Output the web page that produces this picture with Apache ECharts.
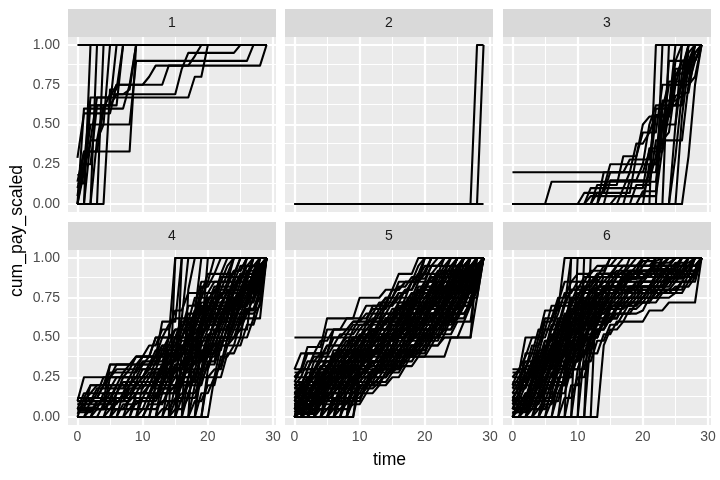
<!DOCTYPE html>
<html>
<head>
<meta charset="utf-8">
<script src="https://cdn.jsdelivr.net/npm/echarts@6/dist/echarts.min.js"></script>
<style>
  html, body { margin: 0; padding: 0; background: #fff; }
  #chart { width: 720px; height: 480px; }
</style>
</head>
<body>
<div id="chart"></div>
<script>
// facet labels and axis ticks
const panelNames = ["1", "2", "3", "4", "5", "6"];
const xTicks = [0, 10, 20, 30];
const xMinor = [5, 15, 25];
const yTicks = [0, 0.25, 0.5, 0.75, 1];
const yMinor = [0.125, 0.375, 0.625, 0.875];
const lastTime = 29;

// each claim: [start value, t1, v1, t2, v2, ...] -> value reaches v_k at time t_k (rising from t_k - 1)
const claims1 = [
  [1],
  [0, 2, 1],
  [0, 3, 1],
  [0, 4, 1],
  [0, 5, 0.72, 7, 1],
  [0.29, 1, 0.57, 6, 0.75, 14, 0.87, 29, 1],
  [0.14, 1, 0.33, 9, 1],
  [0.18, 1, 0.2, 2, 0.5, 9, 0.9, 27, 1],
  [0, 1, 0.25, 2, 0.67, 18, 0.8, 20, 1],
  [0.13, 2, 0.62, 6, 0.69, 16, 0.85, 17, 0.95, 25, 1],
  [0, 2, 0.4, 3, 0.67, 6, 0.75, 11, 0.8, 12, 0.87, 18, 0.93, 19, 1],
  [0.05, 1, 0.33, 4, 0.6, 5, 0.69, 8, 0.72, 9, 1],
  [0, 3, 0.4, 4, 0.62, 7, 1],
  [0, 1, 0.2, 2, 0.4, 4, 0.5, 5, 1],
  [0.1, 1, 0.25, 3, 0.62, 6, 1],
  [0, 1, 0.6, 8, 0.75, 9, 1]
];
const claims2 = [
  [0, 28, 1],
  [0, 29, 1],
  [0]
];
const claims3 = [
  [0, 22, 1],
  [0, 23, 1],
  [0, 24, 1],
  [0.2, 23, 0.6, 25, 1],
  [0, 6, 0.14, 23, 0.5, 26, 1],
  [0, 12, 0.1, 15, 0.25, 21, 0.5, 22, 0.62, 27, 1],
  [0, 13, 0.07, 19, 0.3, 20, 0.45, 23, 0.75, 26, 0.9, 29, 1],
  [0, 14, 0.2, 19, 0.38, 21, 0.45, 22, 0.56, 25, 0.82, 28, 1],
  [0, 11, 0.07, 15, 0.2, 18, 0.28, 22, 0.6, 24, 0.77, 28, 1],
  [0, 17, 0.1, 21, 0.35, 24, 0.9, 29, 1],
  [0, 15, 0.15, 20, 0.25, 23, 0.4, 27, 0.75, 28, 0.9, 29, 1],
  [0, 27, 0.3, 28, 0.75, 29, 1],
  [0, 25, 0.5, 26, 0.82, 27, 1],
  [0, 13, 0.12, 17, 0.3, 20, 0.5, 21, 0.55, 25, 0.68, 26, 0.7, 27, 0.95, 28, 1],
  [0, 20, 0.08, 23, 0.5, 24, 0.75, 27, 0.85, 28, 0.95, 29, 1],
  [0, 26, 0.55, 27, 0.87, 28, 1],
  [0, 14, 0.1, 18, 0.2, 21, 0.33, 24, 0.57, 25, 0.9, 26, 1],
  [0, 21, 0.25, 23, 0.5, 24, 0.62, 26, 0.75, 27, 1],
  [0, 12, 0.05, 21, 0.2, 22, 0.55, 25, 0.8, 26, 0.9, 28, 1],
  [0, 18, 0.15, 22, 0.3, 23, 0.65, 26, 0.68, 27, 0.9, 29, 1],
  [0, 16, 0.05, 23, 0.35, 24, 0.62, 25, 0.85, 27, 1],
  [0, 25, 0.3, 26, 0.7, 28, 0.95, 29, 1],
  [0, 19, 0.12, 22, 0.4, 24, 0.45, 25, 0.75, 28, 0.8, 29, 1]
];
const claims4 = [
  [0.1, 1, 0.25, 6, 0.33, 10, 0.38, 12, 0.5, 15, 1],
  [0.05, 2, 0.2, 5, 0.33, 9, 0.38, 13, 0.6, 16, 1],
  [0, 15, 1],
  [0, 16, 1],
  [0, 17, 0.8, 18, 1],
  [0, 18, 0.65, 19, 1],
  [0, 19, 0.5, 20, 1],
  [0, 20, 0.3, 21, 0.5, 24, 0.75, 28, 1],
  [0, 21, 0.25, 22, 0.33, 23, 0.5, 25, 0.62, 29, 1],
  [0, 20, 0.25, 22, 0.45, 24, 0.5, 26, 0.75, 28, 0.8, 29, 1],
  [0.08, 3, 0.15, 7, 0.22, 10, 0.3, 13, 0.4, 16, 0.55, 19, 0.7, 22, 0.85, 25, 0.95, 27, 1],
  [0, 2, 0.1, 5, 0.18, 8, 0.25, 11, 0.33, 14, 0.42, 17, 0.5, 20, 0.62, 23, 0.75, 26, 0.88, 29, 1],
  [0, 1, 0.12, 4, 0.2, 9, 0.3, 12, 0.38, 15, 0.45, 18, 0.6, 21, 0.7, 24, 0.8, 27, 0.9, 29, 1],
  [0.05, 5, 0.1, 8, 0.18, 11, 0.25, 14, 0.35, 16, 0.42, 19, 0.6, 21, 0.68, 23, 0.8, 26, 0.92, 28, 1],
  [0, 3, 0.05, 6, 0.12, 9, 0.2, 12, 0.28, 15, 0.4, 18, 0.55, 20, 0.68, 22, 0.78, 25, 0.88, 28, 1],
  [0.12, 4, 0.2, 7, 0.28, 10, 0.35, 13, 0.45, 16, 0.6, 18, 0.75, 20, 0.85, 24, 1],
  [0, 4, 0.08, 7, 0.15, 11, 0.2, 14, 0.3, 17, 0.38, 19, 0.5, 22, 0.62, 24, 0.75, 27, 0.92, 29, 1],
  [0, 6, 0.1, 9, 0.15, 12, 0.22, 15, 0.33, 18, 0.45, 20, 0.55, 23, 0.65, 25, 0.8, 28, 0.9, 29, 1],
  [0.02, 1, 0.08, 5, 0.15, 8, 0.25, 11, 0.3, 14, 0.5, 17, 0.62, 19, 0.75, 22, 0.9, 24, 1],
  [0, 7, 0.08, 10, 0.12, 13, 0.2, 16, 0.28, 18, 0.35, 20, 0.5, 22, 0.6, 25, 0.7, 27, 0.85, 29, 1],
  [0, 8, 0.05, 11, 0.15, 14, 0.25, 17, 0.3, 19, 0.42, 21, 0.55, 24, 0.7, 26, 0.82, 28, 0.95, 29, 1],
  [0.1, 2, 0.15, 4, 0.25, 6, 0.3, 9, 0.38, 11, 0.45, 13, 0.55, 15, 0.67, 17, 0.78, 20, 0.9, 22, 1],
  [0, 9, 0.1, 12, 0.18, 15, 0.3, 17, 0.4, 19, 0.55, 21, 0.65, 23, 0.72, 26, 0.85, 29, 1],
  [0, 10, 0.12, 13, 0.25, 16, 0.35, 18, 0.5, 20, 0.58, 23, 0.7, 25, 0.78, 28, 0.92, 29, 1],
  [0.03, 3, 0.1, 6, 0.2, 9, 0.25, 12, 0.35, 14, 0.45, 16, 0.5, 18, 0.67, 21, 0.8, 23, 0.9, 25, 1],
  [0, 5, 0.05, 8, 0.12, 12, 0.25, 15, 0.33, 17, 0.45, 19, 0.58, 22, 0.72, 24, 0.85, 26, 1],
  [0, 11, 0.08, 14, 0.18, 16, 0.25, 18, 0.4, 20, 0.45, 22, 0.55, 24, 0.65, 26, 0.75, 28, 0.85, 29, 1],
  [0, 12, 0.15, 15, 0.2, 17, 0.33, 19, 0.45, 21, 0.62, 24, 0.75, 26, 0.9, 28, 1],
  [0.06, 4, 0.12, 8, 0.2, 10, 0.25, 13, 0.33, 15, 0.5, 17, 0.58, 19, 0.65, 21, 0.75, 24, 0.85, 27, 1],
  [0, 13, 0.05, 15, 0.12, 17, 0.2, 19, 0.3, 21, 0.42, 23, 0.58, 25, 0.7, 27, 0.8, 29, 1],
  [0, 14, 0.1, 16, 0.15, 18, 0.25, 20, 0.4, 22, 0.5, 24, 0.6, 26, 0.68, 28, 0.75, 29, 1],
  [0, 2, 0.05, 5, 0.25, 10, 0.33, 12, 0.38, 14, 0.5, 16, 0.62, 19, 0.82, 21, 0.9, 23, 1],
  [0.1, 5, 0.33, 9, 0.38, 12, 0.5, 14, 0.58, 15, 0.62, 17, 1],
  [0, 15, 0.05, 17, 0.12, 19, 0.22, 20, 0.33, 22, 0.45, 24, 0.55, 26, 0.65, 28, 0.7, 29, 1],
  [0, 16, 0.25, 18, 0.3, 20, 0.5, 22, 0.6, 25, 0.75, 27, 0.8, 29, 1],
  [0, 18, 0.2, 20, 0.35, 22, 0.5, 25, 0.55, 27, 0.88, 28, 0.95, 29, 1],
  [0.05, 1, 0.15, 3, 0.2, 5, 0.25, 8, 0.3, 10, 0.38, 13, 0.45, 15, 0.55, 17, 0.7, 19, 0.85, 21, 1],
  [0, 19, 0.3, 20, 0.4, 22, 0.6, 23, 0.67, 25, 0.75, 28, 0.9, 29, 1],
  [0, 6, 0.05, 9, 0.12, 13, 0.15, 16, 0.22, 19, 0.38, 21, 0.5, 23, 0.62, 25, 0.72, 27, 0.9, 29, 1],
  [0, 17, 0.15, 19, 0.25, 21, 0.3, 23, 0.45, 25, 0.6, 26, 0.67, 28, 0.8, 29, 1],
  [0, 3, 0.1, 8, 0.15, 12, 0.2, 15, 0.3, 17, 0.45, 19, 0.55, 21, 0.7, 23, 0.8, 25, 0.9, 27, 1],
  [0, 5, 0.12, 9, 0.2, 13, 0.3, 16, 0.4, 18, 0.5, 20, 0.6, 21, 0.65, 24, 0.8, 26, 0.85, 29, 1],
  [0.08, 2, 0.12, 6, 0.2, 10, 0.25, 12, 0.3, 15, 0.38, 17, 0.52, 19, 0.6, 22, 0.72, 25, 0.85, 28, 1],
  [0, 7, 0.15, 10, 0.22, 13, 0.33, 15, 0.42, 17, 0.55, 19, 0.68, 21, 0.75, 23, 0.85, 26, 0.95, 28, 1],
  [0, 10, 0.2, 13, 0.28, 16, 0.45, 18, 0.55, 20, 0.65, 22, 0.78, 24, 0.82, 27, 0.9, 29, 1],
  [0, 12, 0.2, 14, 0.35, 16, 0.5, 18, 0.6, 20, 0.72, 22, 0.75, 24, 0.88, 26, 0.95, 29, 1],
  [0, 13, 0.25, 15, 0.38, 17, 0.48, 19, 0.62, 21, 0.72, 23, 0.78, 25, 0.9, 28, 1],
  [0, 15, 0.2, 17, 0.4, 19, 0.5, 21, 0.58, 23, 0.72, 25, 0.8, 27, 0.9, 29, 1],
  [0, 16, 0.12, 18, 0.3, 20, 0.45, 22, 0.55, 24, 0.68, 26, 0.78, 28, 0.88, 29, 1],
  [0.05, 4, 0.15, 7, 0.25, 11, 0.33, 13, 0.42, 15, 0.5, 17, 0.6, 19, 0.72, 21, 0.82, 24, 0.92, 26, 1],
  [0, 8, 0.12, 11, 0.2, 14, 0.28, 16, 0.33, 18, 0.5, 20, 0.62, 22, 0.7, 24, 0.78, 26, 0.88, 28, 0.95, 29, 1],
  [0, 9, 0.15, 12, 0.25, 14, 0.38, 16, 0.45, 18, 0.58, 20, 0.7, 22, 0.8, 25, 0.88, 27, 1],
  [0.1, 3, 0.18, 6, 0.25, 9, 0.33, 12, 0.42, 14, 0.5, 16, 0.58, 18, 0.65, 20, 0.78, 22, 0.88, 25, 1],
  [0, 11, 0.1, 13, 0.18, 15, 0.25, 17, 0.35, 19, 0.48, 21, 0.6, 23, 0.68, 25, 0.78, 27, 0.88, 29, 1],
  [0, 14, 0.2, 16, 0.3, 18, 0.38, 20, 0.52, 22, 0.65, 24, 0.72, 26, 0.85, 28, 0.92, 29, 1],
  [0, 17, 0.25, 19, 0.38, 21, 0.45, 23, 0.55, 25, 0.65, 27, 0.75, 28, 0.85, 29, 1],
  [0, 18, 0.1, 20, 0.2, 22, 0.38, 24, 0.45, 26, 0.58, 28, 0.72, 29, 1],
  [0, 19, 0.15, 21, 0.25, 23, 0.4, 25, 0.5, 27, 0.62, 28, 0.8, 29, 1],
  [0.04, 3, 0.08, 6, 0.15, 9, 0.22, 11, 0.28, 14, 0.4, 16, 0.48, 18, 0.62, 20, 0.75, 23, 0.82, 25, 0.9, 27, 0.95, 29, 1],
  [0, 6, 0.15, 8, 0.2, 12, 0.3, 14, 0.42, 16, 0.55, 18, 0.67, 20, 0.75, 22, 0.85, 24, 0.92, 26, 1],
  [0, 13, 0.15, 16, 0.25, 18, 0.35, 20, 0.42, 22, 0.5, 24, 0.62, 26, 0.72, 28, 0.85, 29, 1],
  [0, 15, 0.1, 17, 0.25, 19, 0.4, 21, 0.5, 23, 0.62, 25, 0.7, 27, 0.82, 29, 1],
  [0.12, 2, 0.2, 5, 0.28, 8, 0.33, 11, 0.38, 13, 0.5, 15, 0.55, 17, 0.65, 19, 0.78, 21, 0.85, 23, 0.95, 24, 1],
  [0, 10, 0.05, 13, 0.1, 16, 0.2, 18, 0.28, 20, 0.38, 22, 0.48, 24, 0.58, 26, 0.68, 28, 0.8, 29, 1],
  [0, 16, 0.4, 18, 0.5, 20, 0.58, 22, 0.68, 24, 0.78, 26, 0.85, 28, 0.95, 29, 1]
];
const claims5 = [
  [0.5, 28, 1],
  [0.3, 2, 0.44, 5, 0.62, 10, 0.75, 14, 0.8, 16, 0.9, 19, 1],
  [0.25, 1, 0.3, 3, 0.4, 6, 0.55, 9, 0.6, 12, 0.7, 15, 0.8, 17, 0.85, 20, 1],
  [0.2, 2, 0.3, 4, 0.35, 7, 0.45, 9, 0.5, 12, 0.6, 14, 0.65, 17, 0.75, 19, 0.85, 21, 0.95, 23, 1],
  [0.15, 1, 0.2, 3, 0.25, 5, 0.3, 7, 0.4, 10, 0.5, 12, 0.55, 15, 0.62, 18, 0.75, 20, 0.85, 22, 0.9, 24, 1],
  [0.1, 2, 0.15, 4, 0.2, 6, 0.3, 8, 0.38, 11, 0.45, 13, 0.5, 16, 0.6, 18, 0.7, 21, 0.8, 23, 0.9, 25, 1],
  [0.05, 1, 0.1, 3, 0.18, 5, 0.25, 8, 0.3, 10, 0.4, 13, 0.48, 15, 0.55, 17, 0.62, 20, 0.72, 22, 0.8, 25, 0.92, 26, 1],
  [0, 1, 0.05, 3, 0.1, 5, 0.2, 7, 0.25, 9, 0.35, 12, 0.42, 14, 0.5, 17, 0.58, 19, 0.68, 22, 0.78, 24, 0.85, 27, 1],
  [0, 2, 0.08, 4, 0.12, 6, 0.18, 9, 0.25, 11, 0.32, 13, 0.4, 16, 0.5, 18, 0.55, 20, 0.65, 23, 0.75, 25, 0.85, 27, 0.95, 29, 1],
  [0, 9, 0.25, 12, 0.3, 14, 0.38, 17, 0.45, 20, 0.55, 22, 0.62, 24, 0.72, 26, 0.8, 28, 0.9, 29, 1],
  [0, 8, 0.2, 10, 0.25, 13, 0.33, 16, 0.38, 19, 0.45, 21, 0.55, 23, 0.6, 25, 0.7, 27, 0.85, 29, 1],
  [0, 7, 0.15, 9, 0.22, 11, 0.28, 14, 0.35, 16, 0.4, 18, 0.5, 21, 0.58, 23, 0.65, 26, 0.78, 28, 0.9, 29, 1],
  [0, 6, 0.12, 8, 0.18, 10, 0.25, 13, 0.3, 15, 0.38, 17, 0.42, 20, 0.52, 22, 0.58, 24, 0.68, 26, 0.75, 28, 0.88, 29, 1],
  [0.02, 4, 0.1, 6, 0.15, 8, 0.22, 10, 0.3, 12, 0.35, 15, 0.45, 18, 0.55, 20, 0.62, 23, 0.7, 25, 0.8, 27, 0.9, 29, 1],
  [0.08, 2, 0.12, 4, 0.18, 7, 0.25, 9, 0.3, 12, 0.4, 14, 0.45, 16, 0.52, 19, 0.62, 21, 0.72, 24, 0.82, 26, 0.9, 28, 1],
  [0.12, 1, 0.2, 3, 0.28, 6, 0.35, 8, 0.42, 10, 0.48, 13, 0.55, 15, 0.62, 17, 0.7, 19, 0.78, 22, 0.88, 24, 0.95, 26, 1],
  [0.18, 2, 0.25, 5, 0.32, 7, 0.4, 9, 0.45, 11, 0.52, 13, 0.6, 16, 0.68, 18, 0.75, 20, 0.82, 22, 0.9, 25, 1],
  [0.22, 1, 0.3, 4, 0.38, 6, 0.45, 8, 0.5, 11, 0.58, 13, 0.65, 15, 0.72, 17, 0.8, 19, 0.87, 21, 0.95, 23, 1],
  [0, 5, 0.15, 7, 0.2, 9, 0.28, 12, 0.35, 14, 0.42, 16, 0.48, 19, 0.58, 21, 0.65, 23, 0.75, 25, 0.82, 27, 0.92, 29, 1],
  [0, 3, 0.05, 6, 0.1, 8, 0.15, 10, 0.2, 12, 0.25, 15, 0.32, 17, 0.4, 19, 0.45, 21, 0.52, 23, 0.6, 25, 0.7, 27, 0.8, 28, 0.9, 29, 1],
  [0, 4, 0.12, 6, 0.2, 9, 0.3, 11, 0.38, 13, 0.42, 15, 0.5, 18, 0.6, 20, 0.68, 22, 0.75, 24, 0.85, 26, 0.92, 28, 1],
  [0.05, 3, 0.15, 5, 0.22, 7, 0.3, 10, 0.35, 12, 0.45, 14, 0.52, 17, 0.6, 19, 0.7, 21, 0.78, 23, 0.85, 25, 0.95, 27, 1],
  [0, 2, 0.12, 4, 0.22, 7, 0.32, 9, 0.38, 12, 0.48, 14, 0.55, 16, 0.62, 18, 0.72, 20, 0.78, 23, 0.88, 26, 1],
  [0.1, 3, 0.2, 5, 0.25, 8, 0.35, 10, 0.42, 12, 0.5, 15, 0.58, 17, 0.65, 19, 0.75, 21, 0.8, 24, 0.9, 27, 1],
  [0, 1, 0.1, 2, 0.18, 4, 0.25, 6, 0.32, 8, 0.4, 11, 0.5, 13, 0.55, 15, 0.6, 17, 0.68, 20, 0.75, 22, 0.82, 25, 0.92, 28, 1],
  [0, 9, 0.1, 11, 0.2, 13, 0.25, 15, 0.3, 17, 0.38, 19, 0.4, 21, 0.5, 23, 0.55, 25, 0.62, 27, 0.75, 29, 1],
  [0, 5, 0.05, 7, 0.12, 10, 0.2, 12, 0.28, 15, 0.35, 17, 0.45, 20, 0.5, 22, 0.6, 24, 0.65, 26, 0.72, 28, 0.85, 29, 1],
  [0.15, 3, 0.22, 5, 0.3, 8, 0.4, 10, 0.45, 12, 0.55, 14, 0.6, 16, 0.65, 18, 0.7, 20, 0.8, 22, 0.85, 24, 0.92, 26, 1],
  [0.2, 1, 0.25, 4, 0.3, 6, 0.38, 9, 0.48, 11, 0.55, 14, 0.62, 16, 0.72, 19, 0.8, 21, 0.88, 23, 0.92, 25, 1],
  [0.25, 2, 0.35, 4, 0.4, 6, 0.5, 8, 0.55, 10, 0.62, 12, 0.68, 14, 0.75, 16, 0.82, 18, 0.88, 20, 0.95, 22, 1],
  [0, 2, 0.1, 5, 0.18, 7, 0.25, 10, 0.32, 13, 0.38, 15, 0.45, 17, 0.52, 19, 0.6, 22, 0.68, 24, 0.78, 26, 0.88, 28, 0.95, 29, 1],
  [0, 8, 0.1, 10, 0.15, 12, 0.22, 14, 0.28, 16, 0.35, 18, 0.42, 20, 0.48, 22, 0.55, 24, 0.65, 26, 0.7, 27, 0.82, 28, 0.9, 29, 1],
  [0.03, 1, 0.08, 4, 0.15, 6, 0.25, 9, 0.32, 11, 0.4, 14, 0.5, 16, 0.55, 18, 0.65, 21, 0.72, 23, 0.8, 26, 0.9, 28, 1],
  [0, 3, 0.15, 5, 0.25, 7, 0.35, 9, 0.4, 11, 0.45, 13, 0.52, 16, 0.58, 18, 0.65, 20, 0.72, 22, 0.8, 24, 0.88, 26, 0.95, 27, 1],
  [0.07, 2, 0.18, 4, 0.28, 6, 0.38, 9, 0.45, 11, 0.5, 13, 0.58, 15, 0.65, 17, 0.72, 19, 0.82, 21, 0.9, 23, 1],
  [0.12, 2, 0.22, 5, 0.3, 7, 0.35, 10, 0.42, 12, 0.48, 14, 0.55, 17, 0.62, 19, 0.68, 21, 0.75, 23, 0.85, 26, 0.92, 28, 1],
  [0, 6, 0.08, 9, 0.15, 11, 0.22, 13, 0.3, 16, 0.35, 18, 0.45, 20, 0.52, 22, 0.6, 25, 0.7, 27, 0.8, 28, 0.92, 29, 1],
  [0, 7, 0.2, 10, 0.28, 12, 0.35, 14, 0.4, 17, 0.5, 19, 0.55, 21, 0.62, 23, 0.7, 25, 0.78, 27, 0.9, 29, 1],
  [0, 9, 0.2, 12, 0.3, 16, 0.38, 23, 0.38, 24, 0.5, 26, 0.6, 28, 0.9, 29, 1],
  [0, 9, 0.25, 12, 0.25, 13, 0.3, 17, 0.38, 19, 0.38, 20, 0.45, 23, 0.5, 27, 0.5, 28, 0.75, 29, 1],
  [0.3, 1, 0.4, 5, 0.55, 8, 0.62, 11, 0.7, 14, 0.75, 16, 0.85, 19, 0.9, 20, 1],
  [0.1, 1, 0.18, 3, 0.3, 5, 0.38, 7, 0.45, 9, 0.55, 11, 0.6, 13, 0.68, 15, 0.75, 17, 0.8, 19, 0.9, 21, 1],
  [0, 4, 0.05, 6, 0.08, 8, 0.12, 11, 0.2, 14, 0.28, 16, 0.32, 18, 0.4, 20, 0.45, 22, 0.52, 24, 0.62, 26, 0.7, 28, 0.8, 29, 1],
  [0.05, 2, 0.1, 3, 0.2, 6, 0.28, 8, 0.35, 10, 0.38, 13, 0.45, 15, 0.52, 18, 0.58, 20, 0.62, 22, 0.7, 24, 0.75, 26, 0.85, 29, 1],
  [0.18, 3, 0.3, 6, 0.42, 8, 0.48, 10, 0.55, 12, 0.6, 14, 0.7, 16, 0.75, 18, 0.85, 20, 0.9, 22, 0.95, 24, 1],
  [0, 1, 0.05, 3, 0.12, 5, 0.2, 7, 0.28, 9, 0.32, 11, 0.38, 13, 0.45, 16, 0.55, 18, 0.6, 20, 0.7, 22, 0.75, 24, 0.82, 26, 0.92, 29, 1],
  [0, 5, 0.2, 8, 0.28, 10, 0.35, 12, 0.4, 14, 0.48, 16, 0.52, 18, 0.6, 20, 0.68, 22, 0.72, 24, 0.8, 25, 0.88, 27, 0.95, 29, 1],
  [0.08, 4, 0.25, 6, 0.3, 9, 0.4, 12, 0.5, 15, 0.6, 17, 0.68, 19, 0.75, 21, 0.82, 23, 0.88, 25, 0.95, 27, 1],
  [0.22, 3, 0.35, 5, 0.45, 7, 0.52, 9, 0.58, 12, 0.65, 14, 0.72, 16, 0.78, 18, 0.85, 19, 0.9, 21, 1],
  [0, 10, 0.3, 12, 0.32, 15, 0.4, 17, 0.48, 19, 0.52, 21, 0.58, 23, 0.65, 25, 0.72, 27, 0.85, 28, 0.95, 29, 1],
  [0.05, 1, 0.15, 3, 0.2, 6, 0.28, 8, 0.35, 10, 0.45, 13, 0.52, 15, 0.58, 18, 0.68, 20, 0.75, 22, 0.85, 25, 0.92, 27, 1],
  [0, 2, 0.05, 4, 0.15, 7, 0.22, 9, 0.3, 11, 0.35, 14, 0.42, 16, 0.5, 18, 0.58, 21, 0.65, 23, 0.72, 25, 0.8, 27, 0.88, 29, 1],
  [0.12, 2, 0.18, 4, 0.25, 6, 0.32, 9, 0.38, 11, 0.45, 13, 0.5, 15, 0.58, 17, 0.65, 20, 0.72, 22, 0.8, 24, 0.88, 27, 1],
  [0, 3, 0.08, 5, 0.12, 8, 0.2, 10, 0.28, 13, 0.35, 15, 0.42, 18, 0.5, 20, 0.58, 22, 0.65, 24, 0.72, 26, 0.8, 28, 0.92, 29, 1],
  [0.2, 2, 0.28, 4, 0.35, 7, 0.42, 9, 0.5, 11, 0.55, 14, 0.62, 16, 0.7, 18, 0.78, 20, 0.85, 22, 0.92, 24, 1],
  [0, 1, 0.08, 4, 0.18, 6, 0.22, 8, 0.3, 11, 0.38, 13, 0.45, 15, 0.5, 18, 0.62, 20, 0.7, 23, 0.78, 25, 0.88, 27, 0.95, 28, 1],
  [0.1, 1, 0.15, 4, 0.22, 7, 0.3, 9, 0.35, 11, 0.42, 14, 0.48, 16, 0.55, 19, 0.65, 21, 0.72, 23, 0.8, 26, 0.88, 28, 0.95, 29, 1],
  [0, 6, 0.05, 8, 0.1, 10, 0.18, 12, 0.25, 14, 0.32, 17, 0.4, 19, 0.48, 21, 0.55, 23, 0.62, 25, 0.72, 27, 0.82, 29, 1],
  [0.15, 2, 0.22, 4, 0.3, 6, 0.4, 8, 0.45, 10, 0.52, 13, 0.6, 15, 0.68, 17, 0.72, 19, 0.8, 21, 0.88, 23, 0.95, 25, 1],
  [0, 4, 0.08, 7, 0.18, 9, 0.25, 11, 0.3, 14, 0.38, 16, 0.45, 18, 0.52, 20, 0.58, 22, 0.68, 24, 0.75, 26, 0.82, 28, 0.9, 29, 1],
  [0.02, 2, 0.08, 5, 0.15, 7, 0.22, 10, 0.28, 12, 0.35, 15, 0.42, 17, 0.48, 19, 0.55, 22, 0.62, 24, 0.7, 26, 0.78, 28, 0.88, 29, 1],
  [0.25, 1, 0.3, 3, 0.38, 5, 0.45, 8, 0.52, 10, 0.58, 12, 0.62, 14, 0.7, 16, 0.78, 18, 0.85, 20, 0.92, 21, 1],
  [0, 7, 0.1, 9, 0.18, 11, 0.25, 13, 0.3, 16, 0.4, 18, 0.45, 20, 0.55, 22, 0.6, 24, 0.68, 26, 0.78, 28, 0.85, 29, 1],
  [0.06, 3, 0.12, 5, 0.2, 8, 0.28, 10, 0.32, 12, 0.4, 15, 0.5, 17, 0.55, 19, 0.62, 21, 0.7, 24, 0.78, 26, 0.85, 28, 0.95, 29, 1],
  [0, 1, 0.12, 3, 0.2, 5, 0.28, 7, 0.32, 10, 0.4, 12, 0.45, 14, 0.52, 17, 0.6, 19, 0.68, 21, 0.75, 23, 0.82, 25, 0.9, 27, 1],
  [0.08, 1, 0.12, 3, 0.22, 6, 0.3, 8, 0.38, 10, 0.45, 12, 0.52, 14, 0.6, 16, 0.65, 18, 0.72, 20, 0.8, 22, 0.85, 24, 0.92, 26, 1],
  [0, 8, 0.15, 10, 0.22, 12, 0.3, 14, 0.35, 16, 0.42, 19, 0.5, 21, 0.58, 23, 0.68, 25, 0.75, 27, 0.85, 28, 0.92, 29, 1],
  [0.18, 1, 0.22, 3, 0.3, 5, 0.35, 7, 0.42, 10, 0.5, 12, 0.58, 14, 0.65, 16, 0.72, 18, 0.78, 20, 0.85, 23, 0.92, 25, 1],
  [0, 5, 0.1, 7, 0.15, 9, 0.2, 12, 0.28, 14, 0.32, 16, 0.38, 18, 0.45, 20, 0.5, 22, 0.58, 24, 0.62, 26, 0.7, 28, 0.82, 29, 1],
  [0.03, 2, 0.15, 4, 0.22, 6, 0.3, 8, 0.35, 11, 0.45, 13, 0.5, 16, 0.58, 18, 0.65, 20, 0.72, 22, 0.78, 24, 0.85, 26, 0.95, 28, 1],
  [0, 3, 0.12, 6, 0.18, 8, 0.25, 10, 0.3, 12, 0.38, 14, 0.45, 17, 0.52, 19, 0.58, 21, 0.65, 23, 0.75, 25, 0.82, 27, 0.9, 29, 1],
  [0.14, 1, 0.2, 4, 0.28, 6, 0.35, 8, 0.42, 11, 0.48, 13, 0.55, 15, 0.62, 17, 0.7, 19, 0.75, 21, 0.82, 23, 0.9, 26, 1],
  [0, 9, 0.12, 11, 0.18, 13, 0.22, 15, 0.28, 17, 0.35, 19, 0.42, 21, 0.48, 23, 0.58, 25, 0.65, 27, 0.72, 28, 0.82, 29, 1],
  [0.1, 2, 0.2, 5, 0.28, 7, 0.32, 9, 0.4, 12, 0.48, 14, 0.52, 16, 0.6, 18, 0.68, 21, 0.75, 23, 0.82, 25, 0.88, 28, 1],
  [0, 2, 0.03, 4, 0.1, 6, 0.15, 9, 0.22, 11, 0.28, 13, 0.35, 16, 0.42, 18, 0.48, 20, 0.55, 22, 0.62, 25, 0.72, 27, 0.8, 29, 1],
  [0.28, 2, 0.4, 4, 0.48, 6, 0.55, 9, 0.6, 11, 0.65, 13, 0.72, 15, 0.8, 17, 0.85, 19, 0.95, 20, 1],
  [0, 6, 0.15, 8, 0.22, 10, 0.3, 12, 0.35, 14, 0.42, 16, 0.5, 18, 0.55, 20, 0.62, 22, 0.7, 24, 0.78, 26, 0.85, 28, 0.95, 29, 1],
  [0.05, 2, 0.12, 4, 0.2, 6, 0.25, 8, 0.32, 10, 0.38, 12, 0.42, 14, 0.48, 16, 0.55, 18, 0.62, 20, 0.68, 22, 0.75, 24, 0.8, 26, 0.9, 28, 1],
  [0, 10, 0.2, 13, 0.25, 15, 0.32, 17, 0.4, 19, 0.42, 21, 0.5, 23, 0.55, 25, 0.65, 27, 0.7, 28, 0.8, 29, 1],
  [0.2, 3, 0.25, 5, 0.32, 7, 0.38, 9, 0.42, 11, 0.5, 13, 0.55, 15, 0.6, 17, 0.68, 19, 0.72, 21, 0.8, 23, 0.88, 25, 0.95, 27, 1],
  [0, 1, 0.03, 3, 0.08, 5, 0.15, 7, 0.2, 9, 0.25, 11, 0.32, 14, 0.4, 16, 0.45, 18, 0.52, 20, 0.6, 23, 0.68, 25, 0.75, 27, 0.85, 29, 1],
  [0.07, 1, 0.1, 3, 0.15, 5, 0.22, 7, 0.28, 9, 0.35, 11, 0.4, 13, 0.45, 15, 0.5, 17, 0.55, 19, 0.6, 21, 0.68, 23, 0.72, 25, 0.78, 27, 0.88, 29, 1],
  [0, 4, 0.2, 6, 0.25, 8, 0.32, 10, 0.38, 12, 0.45, 14, 0.5, 16, 0.55, 19, 0.62, 21, 0.7, 23, 0.78, 25, 0.85, 27, 0.92, 28, 1],
  [0.16, 2, 0.25, 4, 0.32, 6, 0.38, 8, 0.45, 10, 0.5, 12, 0.55, 14, 0.62, 16, 0.68, 18, 0.75, 20, 0.82, 22, 0.88, 24, 0.95, 26, 1],
  [0, 7, 0.05, 9, 0.08, 11, 0.15, 13, 0.2, 15, 0.25, 17, 0.32, 19, 0.38, 21, 0.45, 23, 0.52, 25, 0.6, 27, 0.7, 28, 0.85, 29, 1]
];
const claims6 = [
  [0.28, 2, 0.5, 5, 0.67, 8, 1],
  [0.2, 2, 0.4, 4, 0.55, 6, 0.7, 9, 1],
  [0, 9, 1],
  [0, 10, 1],
  [0, 11, 1],
  [0, 12, 1],
  [0, 13, 0.9, 15, 1],
  [0, 14, 0.45, 15, 0.55, 17, 0.6, 21, 0.67, 24, 0.72, 28, 0.72, 29, 1],
  [0.1, 1, 0.2, 3, 0.3, 5, 0.45, 7, 0.6, 9, 0.75, 11, 0.85, 14, 0.9, 18, 1],
  [0.05, 2, 0.15, 4, 0.3, 6, 0.42, 8, 0.55, 10, 0.7, 12, 0.78, 15, 0.85, 19, 0.92, 23, 1],
  [0, 1, 0.1, 3, 0.22, 5, 0.35, 7, 0.5, 9, 0.62, 11, 0.72, 13, 0.8, 16, 0.88, 20, 0.95, 25, 1],
  [0.15, 2, 0.25, 4, 0.4, 6, 0.5, 8, 0.65, 10, 0.75, 13, 0.82, 17, 0.9, 22, 1],
  [0, 2, 0.05, 4, 0.15, 6, 0.28, 8, 0.4, 10, 0.55, 12, 0.68, 14, 0.78, 17, 0.85, 21, 0.9, 26, 1],
  [0, 3, 0.1, 5, 0.2, 7, 0.32, 9, 0.45, 11, 0.6, 13, 0.7, 15, 0.75, 18, 0.82, 22, 0.88, 27, 1],
  [0.2, 1, 0.3, 3, 0.45, 5, 0.55, 7, 0.7, 9, 0.8, 12, 0.88, 16, 0.95, 20, 1],
  [0.08, 3, 0.2, 5, 0.32, 7, 0.45, 9, 0.58, 11, 0.68, 13, 0.75, 15, 0.8, 19, 0.85, 24, 0.92, 28, 1],
  [0, 4, 0.1, 6, 0.22, 8, 0.35, 10, 0.48, 12, 0.6, 14, 0.7, 16, 0.75, 20, 0.82, 24, 0.9, 29, 1],
  [0, 5, 0.15, 7, 0.3, 9, 0.42, 11, 0.55, 13, 0.65, 15, 0.72, 18, 0.8, 22, 0.85, 25, 0.95, 27, 1],
  [0.12, 2, 0.3, 4, 0.42, 6, 0.58, 8, 0.72, 10, 0.82, 13, 0.9, 17, 0.95, 21, 1],
  [0.05, 1, 0.12, 3, 0.25, 5, 0.38, 7, 0.52, 9, 0.65, 11, 0.75, 14, 0.82, 18, 0.9, 23, 0.95, 26, 1],
  [0, 6, 0.2, 8, 0.35, 10, 0.5, 12, 0.62, 14, 0.72, 16, 0.78, 19, 0.85, 23, 0.92, 28, 1],
  [0, 7, 0.25, 9, 0.4, 11, 0.52, 13, 0.62, 15, 0.7, 17, 0.75, 21, 0.82, 24, 0.88, 29, 1],
  [0.25, 2, 0.35, 4, 0.5, 6, 0.62, 7, 0.75, 9, 0.85, 12, 0.92, 15, 1],
  [0.18, 1, 0.25, 3, 0.35, 5, 0.48, 7, 0.58, 9, 0.7, 11, 0.8, 14, 0.85, 18, 0.92, 22, 0.97, 24, 1],
  [0, 2, 0.1, 4, 0.25, 6, 0.35, 8, 0.5, 10, 0.62, 12, 0.72, 15, 0.8, 18, 0.88, 21, 0.92, 25, 0.97, 28, 1],
  [0.1, 3, 0.15, 5, 0.3, 7, 0.42, 9, 0.55, 11, 0.65, 13, 0.75, 16, 0.82, 20, 0.88, 24, 0.95, 26, 1],
  [0, 8, 0.3, 10, 0.45, 12, 0.58, 14, 0.68, 16, 0.72, 19, 0.78, 22, 0.82, 25, 0.88, 29, 1],
  [0, 3, 0.05, 5, 0.12, 7, 0.22, 9, 0.35, 11, 0.48, 13, 0.58, 15, 0.65, 18, 0.72, 21, 0.78, 24, 0.8, 27, 0.9, 29, 1],
  [0.15, 2, 0.2, 3, 0.3, 5, 0.4, 7, 0.55, 9, 0.68, 11, 0.78, 13, 0.85, 16, 0.9, 19, 0.95, 21, 1],
  [0.03, 2, 0.08, 4, 0.2, 6, 0.32, 8, 0.45, 10, 0.58, 12, 0.7, 14, 0.8, 17, 0.87, 20, 0.92, 23, 0.97, 25, 1],
  [0, 10, 0.3, 12, 0.5, 14, 0.6, 16, 0.65, 20, 0.67, 21, 0.75, 25, 0.78, 27, 0.85, 29, 1],
  [0, 11, 0.4, 13, 0.55, 15, 0.62, 17, 0.7, 20, 0.75, 23, 0.8, 26, 0.85, 28, 0.9, 29, 1],
  [0.08, 1, 0.15, 2, 0.25, 4, 0.38, 6, 0.5, 8, 0.62, 10, 0.72, 12, 0.8, 15, 0.88, 18, 0.92, 22, 1],
  [0, 4, 0.05, 6, 0.15, 8, 0.25, 10, 0.4, 12, 0.52, 14, 0.62, 16, 0.7, 19, 0.75, 22, 0.82, 24, 0.9, 27, 0.95, 29, 1],
  [0.22, 2, 0.32, 4, 0.45, 5, 0.6, 7, 0.72, 9, 0.8, 11, 0.88, 14, 0.95, 17, 1],
  [0, 12, 0.5, 14, 0.6, 16, 0.68, 18, 0.72, 22, 0.8, 24, 0.85, 26, 0.92, 29, 1],
  [0.1, 2, 0.2, 4, 0.32, 6, 0.45, 8, 0.6, 9, 0.75, 11, 0.82, 13, 0.88, 16, 0.92, 20, 0.98, 23, 1],
  [0, 1, 0.05, 3, 0.15, 5, 0.25, 7, 0.38, 9, 0.5, 11, 0.62, 13, 0.7, 15, 0.78, 18, 0.82, 22, 0.9, 25, 0.92, 28, 1],
  [0, 5, 0.1, 7, 0.2, 9, 0.3, 11, 0.42, 13, 0.55, 15, 0.68, 17, 0.75, 20, 0.8, 24, 0.85, 27, 0.92, 29, 1],
  [0.05, 1, 0.15, 2, 0.25, 3, 0.35, 5, 0.48, 7, 0.62, 9, 0.72, 11, 0.8, 13, 0.85, 16, 0.9, 20, 0.95, 24, 1],
  [0, 2, 0.12, 4, 0.2, 6, 0.38, 8, 0.52, 10, 0.65, 12, 0.75, 14, 0.82, 17, 0.88, 21, 0.93, 26, 1],
  [0.12, 1, 0.18, 3, 0.28, 5, 0.42, 7, 0.55, 9, 0.68, 11, 0.78, 13, 0.82, 16, 0.88, 19, 0.92, 22, 0.95, 25, 1],
  [0, 3, 0.15, 5, 0.25, 7, 0.4, 9, 0.52, 11, 0.65, 13, 0.72, 16, 0.8, 19, 0.85, 23, 0.9, 27, 0.95, 29, 1],
  [0.2, 2, 0.28, 4, 0.38, 6, 0.52, 8, 0.62, 10, 0.72, 12, 0.8, 14, 0.88, 17, 0.92, 20, 1],
  [0, 4, 0.15, 6, 0.28, 8, 0.42, 10, 0.55, 12, 0.65, 14, 0.75, 17, 0.8, 20, 0.85, 24, 0.88, 28, 1],
  [0.08, 2, 0.15, 4, 0.28, 6, 0.4, 8, 0.5, 10, 0.62, 12, 0.72, 14, 0.78, 17, 0.82, 20, 0.88, 23, 0.92, 27, 1],
  [0, 5, 0.08, 7, 0.2, 9, 0.35, 11, 0.5, 13, 0.6, 15, 0.7, 18, 0.75, 21, 0.8, 25, 0.85, 28, 0.92, 29, 1],
  [0.15, 1, 0.22, 3, 0.32, 5, 0.42, 6, 0.55, 8, 0.7, 10, 0.78, 12, 0.85, 15, 0.9, 18, 0.95, 22, 1],
  [0, 1, 0.08, 3, 0.18, 5, 0.3, 7, 0.42, 9, 0.55, 11, 0.68, 13, 0.78, 15, 0.82, 18, 0.87, 21, 0.9, 24, 0.95, 27, 1],
  [0.03, 3, 0.12, 5, 0.22, 7, 0.35, 9, 0.48, 11, 0.58, 13, 0.68, 15, 0.75, 17, 0.8, 20, 0.85, 23, 0.9, 26, 0.95, 28, 1],
  [0, 6, 0.1, 8, 0.25, 10, 0.38, 12, 0.5, 14, 0.62, 16, 0.7, 18, 0.75, 21, 0.82, 24, 0.87, 27, 0.92, 29, 1],
  [0.25, 1, 0.3, 3, 0.4, 5, 0.55, 7, 0.65, 8, 0.78, 10, 0.85, 13, 0.9, 16, 0.95, 19, 1],
  [0, 7, 0.15, 9, 0.3, 11, 0.45, 13, 0.55, 15, 0.62, 17, 0.7, 20, 0.75, 23, 0.8, 26, 0.85, 28, 0.9, 29, 1],
  [0.1, 1, 0.12, 3, 0.22, 4, 0.35, 6, 0.45, 8, 0.58, 10, 0.68, 12, 0.75, 14, 0.8, 17, 0.85, 21, 0.9, 25, 0.95, 28, 1],
  [0, 9, 0.2, 11, 0.35, 13, 0.48, 15, 0.58, 17, 0.65, 19, 0.72, 22, 0.78, 25, 0.82, 28, 0.88, 29, 1],
  [0.06, 2, 0.1, 4, 0.22, 6, 0.32, 8, 0.45, 10, 0.55, 12, 0.65, 14, 0.72, 16, 0.78, 19, 0.82, 22, 0.88, 26, 0.95, 29, 1],
  [0, 2, 0.08, 3, 0.2, 5, 0.32, 7, 0.45, 9, 0.58, 11, 0.7, 13, 0.78, 15, 0.85, 18, 0.9, 22, 0.95, 25, 1],
  [0.18, 2, 0.25, 4, 0.35, 6, 0.45, 8, 0.58, 10, 0.68, 12, 0.75, 14, 0.82, 17, 0.87, 20, 0.92, 23, 1],
  [0, 5, 0.18, 7, 0.3, 9, 0.42, 11, 0.5, 13, 0.6, 15, 0.68, 17, 0.72, 20, 0.78, 23, 0.85, 26, 0.9, 29, 1],
  [0.02, 1, 0.06, 3, 0.12, 5, 0.2, 7, 0.3, 9, 0.42, 11, 0.55, 13, 0.65, 15, 0.72, 17, 0.78, 20, 0.82, 23, 0.88, 26, 0.92, 29, 1],
  [0, 3, 0.08, 5, 0.18, 7, 0.28, 9, 0.38, 11, 0.5, 13, 0.62, 15, 0.7, 17, 0.75, 19, 0.8, 22, 0.85, 25, 0.9, 27, 0.95, 29, 1],
  [0.12, 3, 0.22, 5, 0.35, 7, 0.48, 9, 0.6, 11, 0.7, 13, 0.78, 15, 0.82, 18, 0.88, 22, 0.92, 24, 0.95, 26, 1],
  [0, 8, 0.12, 10, 0.25, 12, 0.4, 14, 0.52, 16, 0.6, 18, 0.68, 20, 0.72, 23, 0.78, 26, 0.85, 28, 0.92, 29, 1],
  [0.3, 2, 0.38, 3, 0.5, 5, 0.62, 7, 0.72, 8, 0.85, 10, 0.9, 13, 0.95, 16, 1]
];
const panelClaims = [claims1, claims2, claims3, claims4, claims5, claims6];

// turn a claim's step list into the polyline points ggplot's geom_line would join
function claimPath(c) {
  const pts = [[0, c[0]]];
  let prev = c[0];
  for (let i = 1; i < c.length; i += 2) {
    const t = c[i], v = c[i + 1];
    if (t - 1 > pts[pts.length - 1][0]) pts.push([t - 1, prev]);
    pts.push([t, v]);
    prev = v;
  }
  if (pts[pts.length - 1][0] < lastTime) pts.push([lastTime, prev]);
  return pts;
}

const chart = echarts.init(document.getElementById("chart"));

const colLeft = [68, 285, 503];
const rowTop = [37, 250];
const panelW = 208, panelH = 175, stripH = 28;
const font = "Liberation Sans";

const grids = [], xAxes = [], yAxes = [], series = [], graphics = [];

panelNames.forEach((name, i) => {
  const col = i % 3, row = Math.floor(i / 3);
  const left = colLeft[col], top = rowTop[row];
  grids.push({
    left: left, top: top, width: panelW, height: panelH,
    show: true, backgroundColor: "#EBEBEB", borderWidth: 0
  });
  xAxes.push({
    type: "value", gridIndex: i, min: -1.45, max: 30.45,
    axisLine: { show: false },
    splitLine: { show: false },
    axisTick: { show: row === 1, customValues: xTicks, length: 4.4, lineStyle: { color: "#333333", width: 2 } },
    axisLabel: { show: row === 1, customValues: xTicks, margin: 5, color: "#4D4D4D", fontSize: 14, fontFamily: font }
  });
  yAxes.push({
    type: "value", gridIndex: i, min: -0.05, max: 1.05,
    axisLine: { show: false },
    splitLine: { show: false },
    axisTick: { show: col === 0, customValues: yTicks, length: 4.4, lineStyle: { color: "#333333", width: 2 } },
    axisLabel: {
      show: col === 0, customValues: yTicks, margin: 8, color: "#4D4D4D", fontSize: 14, fontFamily: font,
      formatter: v => v.toFixed(2)
    }
  });

  // grid lines (major + minor) as white mark lines under the data
  const gridLines = [];
  xTicks.forEach(v => gridLines.push({ xAxis: v, lineStyle: { width: 2.2 } }));
  xMinor.forEach(v => gridLines.push({ xAxis: v, lineStyle: { width: 1.1 } }));
  yTicks.forEach(v => gridLines.push({ yAxis: v, lineStyle: { width: 2.2 } }));
  yMinor.forEach(v => gridLines.push({ yAxis: v, lineStyle: { width: 1.1 } }));
  series.push({
    type: "line", xAxisIndex: i, yAxisIndex: i, data: [], silent: true, z: 1,
    markLine: {
      silent: true, symbol: "none", animation: false,
      label: { show: false },
      lineStyle: { color: "#FFFFFF", type: "solid" },
      emphasis: { disabled: true },
      data: gridLines
    }
  });

  panelClaims[i].forEach(c => {
    series.push({
      type: "line", xAxisIndex: i, yAxisIndex: i, z: 10,
      data: claimPath(c),
      showSymbol: false, symbol: "none", silent: true,
      lineStyle: { color: "#000000", width: 2.1, join: "round", cap: "butt" },
      emphasis: { disabled: true }
    });
  });

  // facet strip
  graphics.push({
    type: "rect", left: left, top: top - stripH, silent: true,
    shape: { width: panelW, height: stripH },
    style: { fill: "#D9D9D9" }
  });
  graphics.push({
    type: "text", x: left + panelW / 2, y: top - stripH / 2, silent: true,
    style: { text: name, fill: "#1A1A1A", font: "14px " + font, textAlign: "center", textVerticalAlign: "middle" }
  });
});

graphics.push({
  type: "text", x: (colLeft[0] + colLeft[2] + panelW) / 2, y: 460, silent: true,
  style: { text: "time", fill: "#000000", font: "17.6px " + font, textAlign: "center", textVerticalAlign: "middle" }
});
graphics.push({
  type: "text", x: 17, y: (rowTop[0] + rowTop[1] + panelH) / 2, rotation: Math.PI / 2, silent: true,
  style: { text: "cum_pay_scaled", fill: "#000000", font: "17.6px " + font, textAlign: "center", textVerticalAlign: "middle" }
});

chart.setOption({
  animation: false,
  backgroundColor: "#FFFFFF",
  grid: grids,
  xAxis: xAxes,
  yAxis: yAxes,
  series: series,
  graphic: graphics
});
</script>
</body>
</html>
